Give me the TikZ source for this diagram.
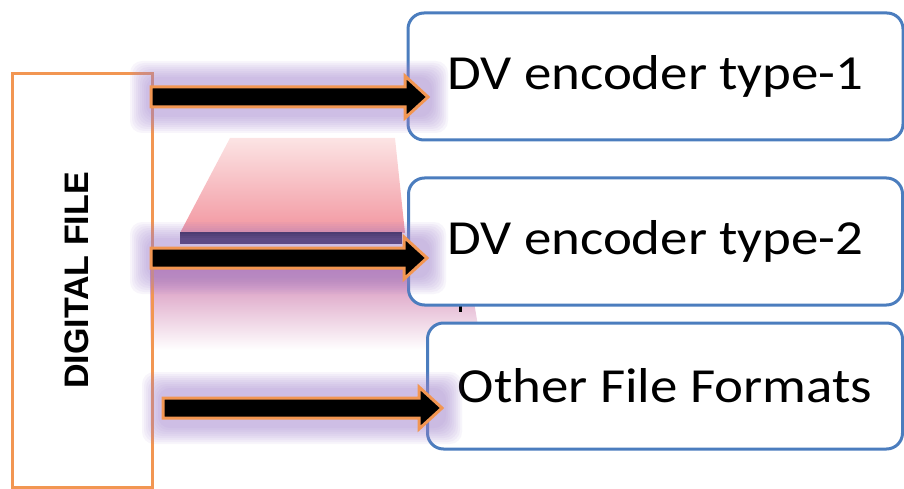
\documentclass[tikz,border=0pt]{standalone}
\usepackage{fontspec}
\setmainfont{Carlito}
\newfontfamily\boxfont[FakeStretch=1.12]{Carlito}
\newfontfamily\filefont{Liberation Sans}
\usetikzlibrary{positioning, calc}

\definecolor{fileorange}{RGB}{242,150,82}
\definecolor{boxblue}{RGB}{75,125,190}
\definecolor{glowc}{RGB}{160,130,205}
\definecolor{pinklight}{RGB}{252,228,228}
\definecolor{pinkdeep}{RGB}{242,150,160}
\definecolor{mauve}{RGB}{210,135,180}
\definecolor{navybar}{RGB}{28,20,60}

\newcommand\fatarrow[2]{%
  \draw[arrowbody] ($(#1)+(0,-10)$) -- ($(#2)+(-23,-10)$) -- ($(#2)+(-23,-21)$) -- (#2)
    -- ($(#2)+(-23,21)$) -- ($(#2)+(-23,10)$) -- ($(#1)+(0,10)$) -- cycle;}
\newcommand\glowband[3]{%
  \foreach \k in {0,...,8}
    \fill[glowc, opacity=0.08, rounded corners=12pt]
      (#2-\k*2, #1-20-\k*2) rectangle (#3+\k*2, #1+20+\k*2);}

\begin{document}
\begin{tikzpicture}[x=1pt, y=-1pt,
    encbox/.style={draw=boxblue, line width=3pt, rounded corners=16pt, fill=white,
      inner sep=0pt, font=\boxfont\fontsize{49}{54}\selectfont},
    filebox/.style={draw=fileorange, line width=3pt, rotate=90, inner sep=0pt, text depth=10pt,
      minimum width=413pt, minimum height=140pt, font=\filefont\bfseries\fontsize{34}{38}\selectfont},
    arrowbody/.style={fill=black, draw=fileorange, line width=3pt, line join=miter}]
    \useasboundingbox (0,0) rectangle (904,489);

    % Define background shading
    \shade[top color=pinklight, bottom color=pinkdeep]
      (230,138) -- (395,138) -- (405,233) -- (180,233) -- cycle;
    \shade[top color=mauve, bottom color=white]
      (150,266) -- (468,266) -- (482,350) -- (150,350) -- cycle;
    \fill[navybar] (180,232) rectangle (402,244);
    \fill[black] (458.5,303) rectangle (461.5,312);

    % Define boxes
    \node[filebox] (file) at (82,280.5) {DIGITAL FILE};
    \node[encbox, minimum width=495pt, minimum height=127pt] (enc1) at (655.5,76.5) {DV encoder type-1};
    \node[encbox, minimum width=494pt, minimum height=127pt] (enc2) [below=35pt of enc1] {DV encoder type-2};
    \node[encbox, minimum width=475pt, minimum height=126pt] (other) [below=15pt of enc2, xshift=9.5pt] {Other File Formats};

    % Define glow
    \glowband{97}{146}{432}
    \glowband{258}{146}{430}
    \glowband{408}{158}{446}

    % Define arrows
    \coordinate (a1s) at (151,97);
    \coordinate (a1e) at (428,97);
    \coordinate (a2s) at (151,258);
    \coordinate (a2e) at (427,258);
    \coordinate (a3s) at (163,408);
    \coordinate (a3e) at (442,408);
    \fatarrow{a1s}{a1e}
    \fatarrow{a2s}{a2e}
    \fatarrow{a3s}{a3e}
\end{tikzpicture}
\end{document}
